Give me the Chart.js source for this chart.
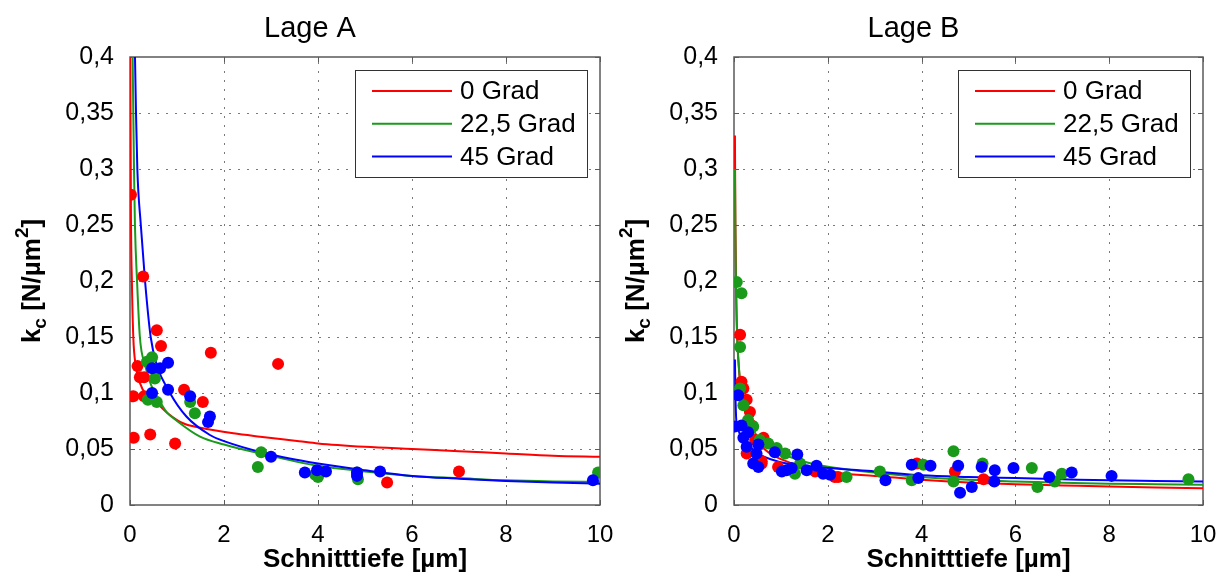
<!DOCTYPE html>
<html>
<head>
<meta charset="utf-8">
<script src="https://cdn.jsdelivr.net/npm/chart.js@4.4.1/dist/chart.umd.min.js"></script>
<style>
  html, body { margin: 0; padding: 0; background: #fff; }
  #wrap { position: relative; width: 1228px; height: 573px; }
  .pane { position: absolute; top: 0; width: 614px; height: 573px; }
</style>
</head>
<body>
<div id="wrap">
  <div class="pane" style="left:0"><canvas id="chartA" width="614" height="573"></canvas></div>
  <div class="pane" style="left:614px"><canvas id="chartB" width="614" height="573"></canvas></div>
</div>
<script>
/* kc over Schnitttiefe, two panels (Lage A / Lage B), MATLAB-like look */
const seriesNames  = ['0 Grad', '22,5 Grad', '45 Grad'];
const seriesColors = ['#ff0000', '#1a9a1a', '#0000ff'];
const xMax = 10, xStep = 2;
const yMax = 0.4, yStep = 0.05;

// Lage A measured points [depth µm, kc N/µm²]
const ptsA0 = [[0.02,0.277],[0.07,0.097],[0.08,0.060],[0.16,0.124],[0.21,0.114],[0.30,0.114],[0.28,0.204],[0.30,0.097],
  [0.43,0.063],[0.57,0.156],[0.66,0.142],[0.96,0.055],[1.15,0.103],[1.55,0.092],[1.72,0.136],[3.15,0.126],[5.47,0.020],[7.0,0.030]];
const ptsA1 = [[0.36,0.128],[0.47,0.132],[0.53,0.113],[0.38,0.094],[0.57,0.092],[1.28,0.092],[1.38,0.082],[2.79,0.047],
  [2.72,0.034],[3.94,0.027],[4.0,0.025],[4.85,0.023],[4.83,0.029],[9.96,0.029]];
const ptsA2 = [[0.47,0.122],[0.64,0.122],[0.81,0.127],[0.47,0.100],[0.81,0.103],[1.28,0.097],[1.70,0.079],[1.66,0.074],
  [3.0,0.043],[3.72,0.029],[3.98,0.031],[4.17,0.030],[4.83,0.029],[4.83,0.026],[5.32,0.030],[9.85,0.022]];

// Lage A fitted curves
const fitA0 = [[0.005,0.42],[0.02,0.26],[0.04,0.20],[0.07,0.15],[0.12,0.125],[0.21,0.109],[0.35,0.098],[0.57,0.091],[0.8,0.082],
  [1.13,0.073],[1.5,0.069],[2.2,0.064],[2.77,0.061],[3.6,0.057],[4,0.055],[5,0.052],[6,0.050],[7,0.048],[8,0.046],[9,0.044],[10,0.043]];
const fitA1 = [[0.05,0.42],[0.057,0.4],[0.07,0.35],[0.085,0.3],[0.105,0.25],[0.15,0.2],[0.21,0.15],[0.32,0.125],[0.45,0.107],
  [0.6,0.095],[0.78,0.083],[1,0.075],[1.49,0.061],[2,0.054],[2.77,0.046],[4,0.035],[5,0.030],[6,0.026],[7,0.024],[8,0.022],[9,0.021],[10,0.0205]];
const fitA2 = [[0.1,0.42],[0.106,0.4],[0.128,0.35],[0.156,0.3],[0.23,0.25],[0.32,0.2],[0.44,0.15],[0.57,0.125],[0.85,0.1],
  [1.2,0.079],[1.7,0.0625],[2,0.057],[2.9,0.046],[4,0.037],[5,0.031],[6,0.026],[7,0.0235],[8,0.0215],[9,0.020],[10,0.019]];

// Lage B measured points
const ptsB0 = [[0.13,0.152],[0.16,0.110],[0.27,0.094],[0.34,0.083],[0.38,0.071],[0.27,0.046],[0.59,0.037],[0.63,0.060],
  [0.59,0.039],[0.94,0.034],[1.73,0.030],[2.15,0.025],[2.22,0.025],[3.9,0.037],[4.71,0.030],[5.32,0.023],[0.2,0.104],[0.45,0.058]];
const ptsB1 = [[0.06,0.199],[0.16,0.189],[0.13,0.141],[0.13,0.104],[0.2,0.089],[0.41,0.070],[0.73,0.055],[0.91,0.051],
  [1.09,0.046],[1.3,0.028],[1.41,0.037],[2.4,0.025],[3.11,0.030],[3.79,0.022],[4.04,0.036],[4.68,0.048],[4.68,0.021],
  [5.3,0.037],[6.35,0.033],[6.47,0.016],[6.84,0.021],[6.99,0.028],[9.69,0.023],[0.3,0.076],[0.55,0.058]];
const ptsB2 = [[0.02,0.070],[0.16,0.071],[0.09,0.098],[0.2,0.060],[0.3,0.065],[0.27,0.052],[0.41,0.037],[0.52,0.034],
  [0.52,0.054],[0.48,0.046],[0.87,0.047],[1.02,0.030],[1.12,0.031],[1.23,0.033],[1.35,0.045],[1.55,0.031],[1.76,0.035],
  [1.9,0.028],[2.05,0.027],[3.23,0.022],[3.79,0.036],[3.93,0.024],[4.19,0.035],[4.78,0.035],[4.82,0.011],[5.07,0.016],
  [5.28,0.034],[5.56,0.031],[5.55,0.021],[5.96,0.033],[6.72,0.025],[7.2,0.029],[8.05,0.026]];

// Lage B fitted curves
const fitB0 = [[0.02,0.33],[0.03,0.25],[0.05,0.18],[0.1,0.125],[0.13,0.109],[0.27,0.079],[0.48,0.058],[0.77,0.046],[1,0.041],
  [1.47,0.034],[2.19,0.0285],[3,0.026],[4,0.0225],[5,0.020],[6,0.0185],[7,0.0175],[8,0.0165],[9,0.0157],[10,0.015]];
const fitB1 = [[0.02,0.30],[0.03,0.24],[0.06,0.16],[0.1,0.125],[0.16,0.103],[0.38,0.070],[0.77,0.052],[1.47,0.039],[2.19,0.033],
  [3,0.029],[4,0.025],[5,0.0225],[6,0.021],[7,0.0198],[8,0.019],[9,0.0185],[10,0.018]];
const fitB2 = [[0.02,0.13],[0.03,0.10],[0.05,0.075],[0.1,0.066],[0.2,0.057],[0.34,0.052],[0.55,0.045],[1.12,0.037],[2.05,0.033],
  [3,0.030],[4,0.0265],[5,0.025],[6,0.024],[7,0.023],[8,0.022],[9,0.0215],[10,0.021]];

const FONT = '"Liberation Sans", Arial, Helvetica, sans-serif';
const fmt = v => String(Math.round(v * 100) / 100).replace('.', ',');
const toXY = arr => arr.map(p => ({ x: p[0], y: p[1] }));

// grid, box, inner ticks, titles, legend
const matlabAxes = {
  id: 'matlabAxes',
  beforeDatasetsDraw(chart) {
    const { ctx, chartArea: a, scales: { x, y } } = chart;
    ctx.save();
    ctx.strokeStyle = '#7a7a7a'; ctx.lineWidth = 1; ctx.setLineDash([2, 7]);
    x.ticks.forEach(t => {
      if (t.value <= 0 || t.value >= xMax) return;
      const px = Math.round(x.getPixelForValue(t.value)) + 0.5;
      ctx.beginPath(); ctx.moveTo(px, a.bottom); ctx.lineTo(px, a.top); ctx.stroke();
    });
    y.ticks.forEach(t => {
      if (t.value <= 0 || t.value >= yMax - 1e-9) return;
      const py = Math.round(y.getPixelForValue(t.value)) + 0.5;
      ctx.beginPath(); ctx.moveTo(a.left, py); ctx.lineTo(a.right, py); ctx.stroke();
    });
    ctx.setLineDash([]);
    ctx.strokeStyle = '#5a5a5a'; ctx.lineWidth = 1.5;
    ctx.strokeRect(a.left, a.top, a.right - a.left, a.bottom - a.top);
    ctx.lineWidth = 1;
    x.ticks.forEach(t => {
      const px = Math.round(x.getPixelForValue(t.value)) + 0.5;
      ctx.beginPath();
      ctx.moveTo(px, a.bottom); ctx.lineTo(px, a.bottom - 5);
      ctx.moveTo(px, a.top); ctx.lineTo(px, a.top + 5);
      ctx.stroke();
    });
    y.ticks.forEach(t => {
      const py = Math.round(y.getPixelForValue(t.value)) + 0.5;
      ctx.beginPath();
      ctx.moveTo(a.left, py); ctx.lineTo(a.left + 5, py);
      ctx.moveTo(a.right, py); ctx.lineTo(a.right - 5, py);
      ctx.stroke();
    });
    ctx.restore();
  },
  afterDatasetsDraw(chart, args, opts) {
    const { ctx, chartArea: a } = chart;
    const cx = (a.left + a.right) / 2, cy = (a.top + a.bottom) / 2;
    ctx.save();
    ctx.fillStyle = '#000';
    // panel title, centred over the whole panel incl. labels
    ctx.font = '29px ' + FONT; ctx.textAlign = 'center'; ctx.textBaseline = 'alphabetic';
    ctx.fillText(opts.title, cx - 55, 37);
    // x title
    ctx.font = 'bold 26px ' + FONT;
    ctx.fillText('Schnitttiefe [µm]', cx, 567);
    // y title with sub/superscript, rotated
    ctx.translate(a.left - 90, cy); ctx.rotate(-Math.PI / 2);
    const big = 'bold 26px ' + FONT, small = 'bold 19px ' + FONT;
    const parts = [['k', big, 0], ['c', small, 6], [' [N/µm', big, 0], ['2', small, -12], [']', big, 0]];
    let w = 0;
    parts.forEach(p => { ctx.font = p[1]; w += ctx.measureText(p[0]).width; });
    let tx = -w / 2;
    ctx.textAlign = 'left';
    parts.forEach(p => { ctx.font = p[1]; ctx.fillText(p[0], tx, p[2]); tx += ctx.measureText(p[0]).width; });
    ctx.restore();

    // legend box
    ctx.save();
    const bl = a.right - 245, br = a.right - 13, bt = a.top + 13, bb = a.top + 120;
    ctx.fillStyle = '#fff'; ctx.fillRect(bl, bt, br - bl, bb - bt);
    ctx.strokeStyle = '#333'; ctx.lineWidth = 1;
    ctx.strokeRect(bl + 0.5, bt + 0.5, br - bl, bb - bt);
    ctx.font = '26px ' + FONT; ctx.textBaseline = 'middle'; ctx.textAlign = 'left';
    seriesNames.forEach((name, i) => {
      const ry = bt + 21 + i * 32.7;
      ctx.strokeStyle = seriesColors[i]; ctx.lineWidth = 2;
      ctx.beginPath(); ctx.moveTo(bl + 17, ry); ctx.lineTo(bl + 97, ry); ctx.stroke();
      ctx.fillStyle = '#000';
      ctx.fillText(name, bl + 105, ry + 1);
    });
    ctx.restore();
  }
};

function makeChart(id, title, pts, fits, yAxisWidth, padRight) {
  const datasets = [];
  fits.forEach((f, i) => datasets.push({
    label: seriesNames[i] + ' fit', data: toXY(f), showLine: true, borderColor: seriesColors[i],
    borderWidth: 2, pointRadius: 0, cubicInterpolationMode: 'monotone', order: 6 - i
  }));
  pts.forEach((p, i) => datasets.push({
    label: seriesNames[i], data: toXY(p), showLine: false, backgroundColor: seriesColors[i],
    borderWidth: 0, pointRadius: 6, order: 3 - i
  }));
  return new Chart(document.getElementById(id), {
    type: 'scatter',
    data: { datasets },
    options: {
      responsive: false, animation: false, events: [],
      layout: { padding: { top: 57, right: padRight, left: 0, bottom: 0 } },
      plugins: { legend: { display: false }, tooltip: { enabled: false }, matlabAxes: { title } },
      scales: {
        x: {
          type: 'linear', min: 0, max: xMax,
          grid: { display: false }, border: { display: false },
          ticks: { stepSize: xStep, color: '#000', font: { size: 24, family: FONT }, padding: 8, maxRotation: 0, autoSkip: false },
          afterFit: s => { s.height = 68; s.paddingLeft = 0; s.paddingRight = 0; }
        },
        y: {
          type: 'linear', min: 0, max: yMax,
          grid: { display: false }, border: { display: false },
          ticks: { stepSize: yStep, color: '#000', font: { size: 25, family: FONT }, padding: 8, autoSkip: false, callback: v => fmt(v) },
          afterFit: s => { s.width = yAxisWidth; s.paddingTop = 0; s.paddingBottom = 0; }
        }
      }
    },
    plugins: [matlabAxes]
  });
}

makeChart('chartA', 'Lage A', [ptsA0, ptsA1, ptsA2], [fitA0, fitA1, fitA2], 130, 14);
makeChart('chartB', 'Lage B', [ptsB0, ptsB1, ptsB2], [fitB0, fitB1, fitB2], 120, 25);
</script>
</body>
</html>
